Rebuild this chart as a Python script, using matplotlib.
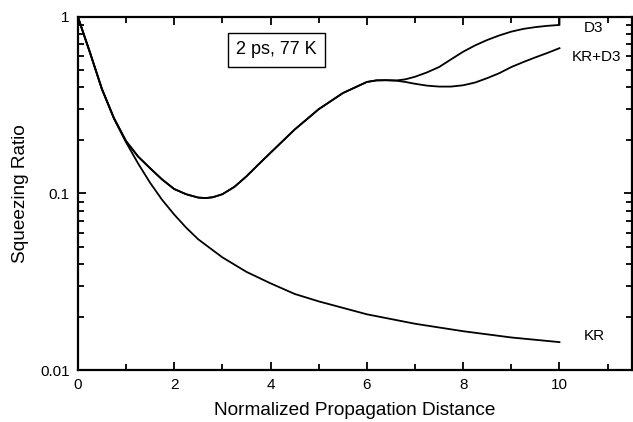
import matplotlib
matplotlib.use("Agg")
import matplotlib.pyplot as plt
from matplotlib.ticker import LogLocator, FixedLocator, NullFormatter, FixedFormatter

plt.rcParams['font.family'] = ['Liberation Sans', 'DejaVu Sans']

# KR curve
kr_x = [0, 0.25, 0.5, 0.75, 1.0, 1.25, 1.5, 1.75, 2.0, 2.25, 2.5, 3.0, 3.5, 4.0, 4.5, 5.0, 6.0, 7.0, 8.0, 9.0, 10.0]
kr_y = [1.0, 0.63, 0.39, 0.265, 0.195, 0.148, 0.115, 0.092, 0.076, 0.064, 0.055, 0.0435, 0.036, 0.031, 0.027, 0.0245, 0.0207, 0.0183, 0.0166, 0.0153, 0.0144]

# Common part of D3 and KR+D3
common_x = [0, 0.25, 0.5, 0.75, 1.0, 1.25, 1.5, 1.75, 2.0, 2.25, 2.5, 2.65, 2.8, 3.0, 3.25, 3.5, 3.75, 4.0, 4.5, 5.0, 5.5, 6.0, 6.2, 6.4, 6.6]
common_y = [1.0, 0.63, 0.39, 0.267, 0.198, 0.162, 0.139, 0.12, 0.106, 0.099, 0.0948, 0.0942, 0.0952, 0.099, 0.109, 0.125, 0.146, 0.17, 0.23, 0.3, 0.37, 0.428, 0.437, 0.438, 0.436]

d3_x = [6.8, 7.0, 7.25, 7.5, 7.75, 8.0, 8.25, 8.5, 8.75, 9.0, 9.25, 9.5, 9.75, 10.0, 10.0]
d3_y = [0.443, 0.458, 0.485, 0.52, 0.575, 0.635, 0.69, 0.74, 0.785, 0.825, 0.855, 0.875, 0.89, 0.90, 1.0]

krd3_x = [6.8, 7.0, 7.25, 7.5, 7.75, 8.0, 8.25, 8.5, 8.75, 9.0, 9.25, 9.5, 9.75, 10.0]
krd3_y = [0.428, 0.418, 0.408, 0.403, 0.403, 0.41, 0.425, 0.45, 0.48, 0.52, 0.555, 0.59, 0.625, 0.665]

x_ticks = [0, 2, 4, 6, 8, 10]
y_ticks = [0.01, 0.1, 1]
y_tick_labels = ["0.01", "0.1", "1"]

fig = plt.figure(figsize=(6.33, 4.22), dpi=100)
ax = fig.add_axes([0.123, 0.123, 0.875, 0.837])

lw = 1.3
ax.plot(kr_x, kr_y, color='black', lw=lw)
ax.plot(common_x + d3_x, common_y + d3_y, color='black', lw=lw)
ax.plot(common_x + krd3_x, common_y + krd3_y, color='black', lw=lw)

ax.set_yscale('log')
ax.set_xlim(0, 11.5)
ax.set_ylim(0.01, 1)

ax.xaxis.set_major_locator(FixedLocator(x_ticks))
ax.xaxis.set_minor_locator(FixedLocator([1, 3, 5, 7, 9, 11]))
ax.yaxis.set_major_locator(FixedLocator(y_ticks))
ax.yaxis.set_major_formatter(FixedFormatter(y_tick_labels))
ax.yaxis.set_minor_locator(LogLocator(base=10, subs=range(2, 10)))
ax.yaxis.set_minor_formatter(NullFormatter())

ax.tick_params(which='both', direction='in', top=True, right=True, labelsize=11, width=1.3)
ax.tick_params(which='major', length=6, pad=6)
ax.tick_params(which='minor', length=4)
for s in ax.spines.values():
    s.set_linewidth(1.6)

ax.set_xlabel("Normalized Propagation Distance", fontsize=13.7, labelpad=7)
ax.set_ylabel("Squeezing Ratio", fontsize=13.7, labelpad=8)

ax.text(10.5, 0.87, "D3", fontsize=11, ha='left', va='center')
ax.text(10.25, 0.593, "KR+D3", fontsize=11, ha='left', va='center')
ax.text(10.5, 0.0156, "KR", fontsize=11, ha='left', va='center')

ax.text(4.13, 0.65, "2 ps, 77 K", fontsize=13, ha='center', va='center',
        bbox=dict(boxstyle='square,pad=0.45', facecolor='white', edgecolor='black', lw=1.0))

fig.savefig("out.png", dpi=100)
